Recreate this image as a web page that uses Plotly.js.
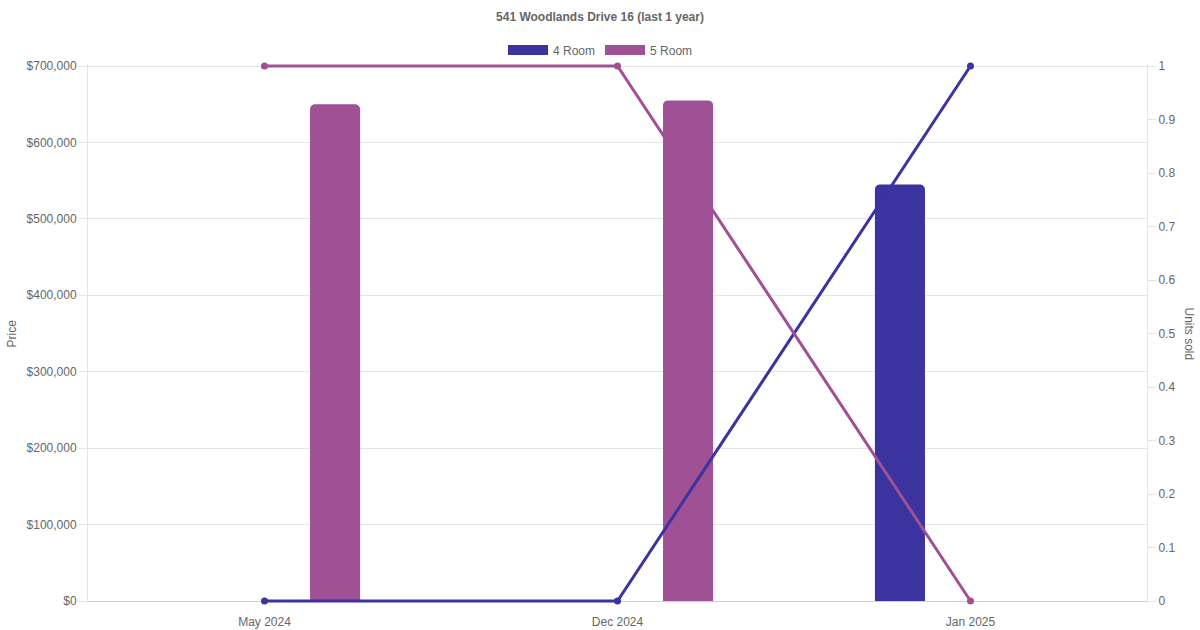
<!DOCTYPE html>
<html>
<head>
<meta charset="utf-8">
<script src="https://cdn.plot.ly/plotly-3.0.1.min.js"></script>
<style>html,body{margin:0;padding:0;background:#fff}#chart{width:1200px;height:630px}</style>
</head>
<body>
<div id="chart"></div>
<script>
const categories = ['May 2024', 'Dec 2024', 'Jan 2025'];
const price4Room = [null, null, 545000];
const price5Room = [650000, 655000, null];
const units4Room = [0, 0, 1];
const units5Room = [1, 1, 0];
const seriesNames = ['4 Room', '5 Room'];
const priceTicks = [0, 100000, 200000, 300000, 400000, 500000, 600000, 700000];
const priceTickLabels = ['$0', '$100,000', '$200,000', '$300,000', '$400,000', '$500,000', '$600,000', '$700,000'];

const c4 = '#3a33a0';
const c5 = '#a05094';
const font = 'Liberation Sans, Arial, Helvetica, sans-serif';
// small padding (px) so lines on the plot edges are not clipped
const padPx = 2, innerPx = 535;
const padFrac = padPx / innerPx;

const traces = [
  {type: 'bar', x: categories, y: price4Room, yaxis: 'y', xaxis: 'x', width: 0.1418, offset: -0.2708,
   marker: {color: c4, cornerradius: 5, line: {width: 0}}, showlegend: false, hoverinfo: 'skip'},
  {type: 'bar', x: categories, y: price5Room, yaxis: 'y', xaxis: 'x', width: 0.1418, offset: 0.129,
   marker: {color: c5, cornerradius: 5, line: {width: 0}}, showlegend: false, hoverinfo: 'skip'},
  {type: 'scatter', mode: 'lines+markers', x: categories, y: units4Room, yaxis: 'y2', xaxis: 'x',
   line: {color: c4, width: 3}, marker: {color: c4, size: 7}, showlegend: false, cliponaxis: false, hoverinfo: 'skip'},
  {type: 'scatter', mode: 'lines+markers', x: categories, y: units5Room, yaxis: 'y2', xaxis: 'x',
   line: {color: c5, width: 3}, marker: {color: c5, size: 7}, showlegend: false, cliponaxis: false, hoverinfo: 'skip'},
  {type: 'scatter', mode: 'lines', x: [null], y: [null], name: seriesNames[0], line: {color: c4, width: 12}, yaxis: 'y2'},
  {type: 'scatter', mode: 'lines', x: [null], y: [null], name: seriesNames[1], line: {color: c5, width: 12}, yaxis: 'y2'}
];

const layout = {
  width: 1200, height: 630,
  margin: {l: 88, r: 53, t: 66 - padPx, b: 29 - padPx, pad: 0},
  paper_bgcolor: '#fff', plot_bgcolor: '#fff',
  font: {family: font, size: 12, color: '#666'},
  barmode: 'overlay',
  showlegend: true,
  title: {text: '<b>541 Woodlands Drive 16 (last 1 year)</b>', x: 0.5, xanchor: 'center',
          y: 1 - 17/630, yref: 'container', yanchor: 'middle', font: {family: font, size: 12, color: '#666'}},
  legend: {orientation: 'h', x: 0.5 - 17/1059, xanchor: 'center', y: 1 + 14/539, yanchor: 'middle',
           font: {family: font, size: 12, color: '#666'}, itemwidth: 40, traceorder: 'normal', bgcolor: 'rgba(0,0,0,0)'},
  xaxis: {type: 'category', range: [-0.5, 2.5], showgrid: false, showline: false,
          ticks: 'outside', ticklen: 8, tickcolor: 'rgba(0,0,0,0)',
          tickfont: {family: font, size: 12, color: '#666'}, fixedrange: true, zeroline: false},
  yaxis: {range: [-700000 * padFrac, 700000 * (1 + padFrac)], side: 'left', tickvals: priceTicks, ticktext: priceTickLabels,
          showgrid: true, gridcolor: '#e5e5e5', zeroline: true, zerolinecolor: '#d0d0d0', zerolinewidth: 1,
          showline: true, linecolor: '#e5e5e5',
          ticks: 'outside', ticklen: 8, tickcolor: '#e5e5e5',
          tickfont: {family: font, size: 12, color: '#666'}, fixedrange: true},
  yaxis2: {range: [-padFrac, 1 + padFrac], overlaying: 'y', side: 'right', tickvals: [0,0.1,0.2,0.3,0.4,0.5,0.6,0.7,0.8,0.9,1],
           ticktext: ['0','0.1','0.2','0.3','0.4','0.5','0.6','0.7','0.8','0.9','1'],
           showgrid: false, zeroline: false,
           showline: true, linecolor: '#e5e5e5', ticks: 'outside', ticklen: 8, tickcolor: '#e5e5e5',
           tickfont: {family: font, size: 12, color: '#666'}, fixedrange: true},
  annotations: [
    {text: 'Price', xref: 'paper', yref: 'paper', x: -77/1059, y: 0.5, xanchor: 'center', yanchor: 'middle',
     textangle: -90, showarrow: false, font: {family: font, size: 12, color: '#666'}},
    {text: 'Units sold', xref: 'paper', yref: 'paper', x: 1 + 42/1059, y: 0.5, xanchor: 'center', yanchor: 'middle',
     textangle: 90, showarrow: false, font: {family: font, size: 12, color: '#666'}}
  ],
  hovermode: false
};

Plotly.newPlot('chart', traces, layout, {displayModeBar: false, staticPlot: true});
</script>
</body>
</html>
